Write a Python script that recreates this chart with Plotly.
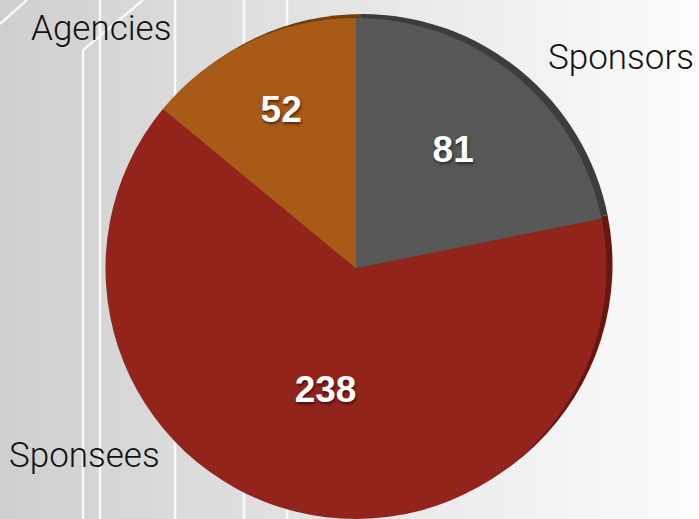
import plotly.graph_objects as go

# Data
categories = ["Sponsors", "Sponsees", "Agencies"]
counts = [81, 238, 52]

# Styling
slice_colors = ["#575757", "#92241b", "#a85a17"]
rim_colors = ["#3c3c3c", "#68160f", "#70400f"]

W, H = 699, 519

# Pie geometry in pixels (center x, top, bottom)
cx, top_px, bottom_px = 356, 18, 519
radius = (bottom_px - top_px) / 2.0


def px_x(v):
    return v / W


def px_y(v):
    return 1 - v / H


pie_domain = dict(x=[px_x(cx - radius), px_x(cx + radius)],
                  y=[px_y(bottom_px), px_y(top_px)])
rim_dx, rim_dy = 6, 4
rim_domain = dict(x=[px_x(cx - radius + rim_dx), px_x(cx + radius + rim_dx)],
                  y=[px_y(bottom_px - rim_dy), px_y(top_px - rim_dy)])

fig = go.Figure()

# Dark rim behind the pie, giving a slight raised edge
fig.add_trace(go.Pie(
    labels=categories, values=counts, sort=False, direction="clockwise",
    rotation=0, domain=rim_domain, textinfo="none", hoverinfo="skip",
    marker=dict(colors=rim_colors, line=dict(width=0)), showlegend=False,
))

# Main pie with the counts inside each slice
fig.add_trace(go.Pie(
    labels=categories, values=counts, sort=False, direction="clockwise",
    rotation=0, domain=pie_domain, textinfo="value", textposition="inside",
    insidetextorientation="horizontal",
    textfont=dict(family="Liberation Sans, Arial, sans-serif", size=37,
                  color="white", weight="bold",
                  shadow="1px 2px 3px rgba(0,0,0,0.55)"),
    marker=dict(colors=slice_colors, line=dict(width=0)), showlegend=False,
))

# Background: soft left-to-right grey gradient
shapes = []
n_bands = 70
band_w = W / n_bands
for i in range(n_bands):
    t = (i + 0.5) / n_bands
    g = int(round(207 + (252 - 207) * t))
    shapes.append(dict(type="rect", xref="paper", yref="paper", layer="below",
                       x0=px_x(i * band_w), x1=px_x((i + 1) * band_w + 1),
                       y0=0, y1=1, line=dict(width=0),
                       fillcolor=f"rgb({g},{g},{g})"))

# Decorative white circuit lines
line_paths = [
    [(0, 24), (27, 0)],
    [(83, 519), (83, 50), (143, 0)],
    [(100, 519), (100, 0)],
    [(175, 519), (175, 0)],
    [(244, 519), (244, 0)],
    [(287, 519), (287, 0)],
]
for pts in line_paths:
    for (x0, y0), (x1, y1) in zip(pts[:-1], pts[1:]):
        shapes.append(dict(type="line", xref="paper", yref="paper", layer="below",
                           x0=px_x(x0), y0=px_y(y0), x1=px_x(x1), y1=px_y(y1),
                           line=dict(color="rgba(255,255,255,0.85)", width=2.5)))

# Category labels placed around the pie
label_font = dict(family="Roboto, Liberation Sans, Arial, sans-serif", size=35,
                  color="#111111", weight=300)
label_pos = {
    "Agencies": (29, 29, "left"),
    "Sponsors": (696, 57, "right"),
    "Sponsees": (7, 455, "left"),
}
annotations = []
for name in categories:
    x, y, anchor = label_pos[name]
    annotations.append(dict(text=name, xref="paper", yref="paper",
                            x=px_x(x), y=px_y(y), xanchor=anchor, yanchor="middle",
                            showarrow=False, font=label_font))

fig.update_layout(
    width=W, height=H,
    margin=dict(l=0, r=0, t=0, b=0),
    paper_bgcolor="#e4e4e4", plot_bgcolor="rgba(0,0,0,0)",
    shapes=shapes, annotations=annotations,
)

fig.write_html("out.html")
